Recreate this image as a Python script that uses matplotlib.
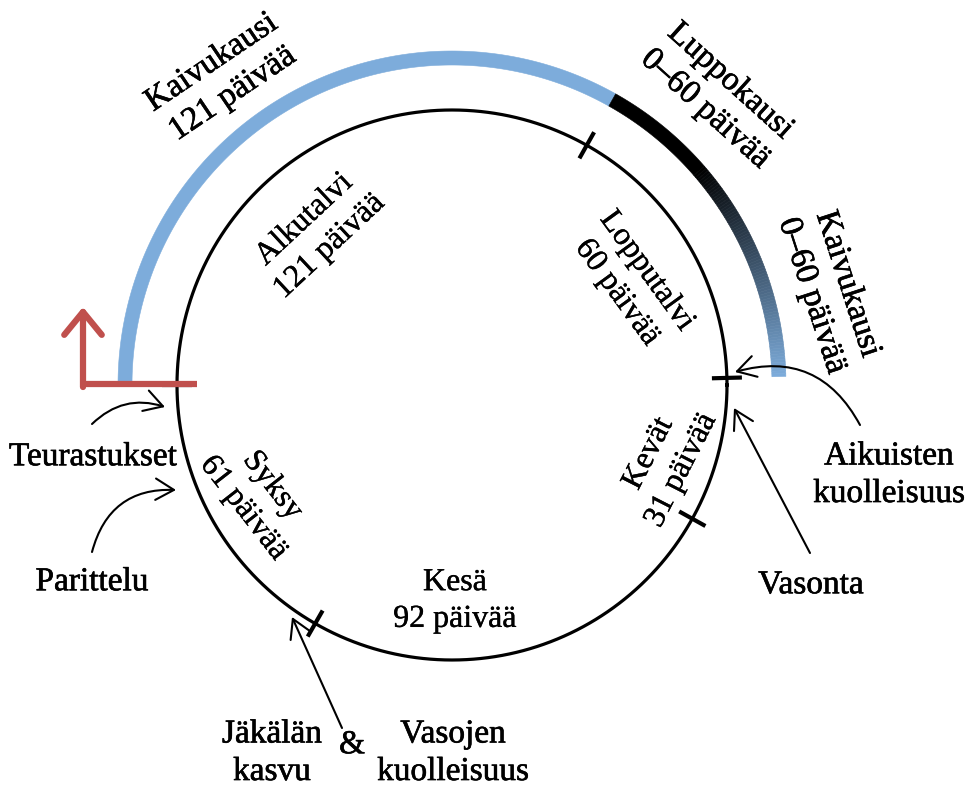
import numpy as np
import matplotlib.pyplot as plt
import matplotlib.patheffects as pe
from matplotlib.collections import PolyCollection
from matplotlib.colors import to_rgb

plt.rcParams['font.family'] = ['Liberation Serif', 'DejaVu Serif']

# vuodenajat ja pituudet (päivää)
seasons = ['Alkutalvi', 'Lopputalvi', 'Kevät', 'Kesä', 'Syksy']
season_days = [121, 60, 31, 92, 61]

# ulompi kaari: kaivukausi + epävarma luppokausi/kaivukausi
dig_days = 121
luppo_range = [0, 60]
black_share = 1 / 3   # osa epävarmasta jaksosta joka on täysin musta

# tapahtumat
events = ['Teurastukset', 'Parittelu', 'Aikuisten\nkuolleisuus', 'Vasonta',
          'Jäkälän\nkasvu', 'Vasojen\nkuolleisuus']

year = sum(season_days)
deg_per_day = 360.0 / year

# layout (kuvan pikseleinä)
W, H = 967, 789
cx, cy = 452, 385
r_in = 275
r_out = 327
band = 14
blue = '#7DACDB'
red = '#C0504D'
bold = [pe.withStroke(linewidth=0.45, foreground='black')]
semi = [pe.withStroke(linewidth=0.25, foreground='black')]


def pt(r, ang):
    a = np.radians(ang)
    return cx + r * np.cos(a), cy - r * np.sin(a)


def sector(a1, a2, r1, r2, n=40):
    t = np.linspace(a1, a2, n)
    xo, yo = pt(r2, t)
    xi, yi = pt(r1, t[::-1])
    return np.column_stack([np.r_[xo, xi], np.r_[yo, yi]])


fig = plt.figure(figsize=(W / 100, H / 100), dpi=100)
ax = fig.add_axes([0, 0, 1, 1])
ax.set_xlim(0, W)
ax.set_ylim(H, 0)
ax.axis('off')

# sisempi ympyrä
t = np.linspace(0, 360, 721)
x, y = pt(r_in, t)
ax.plot(x, y, color='black', lw=2.3, zorder=2)

# rajat vuodenaikojen välissä
bounds = 180 - np.cumsum([0] + season_days) * deg_per_day
for b in bounds[:-1]:
    x, y = pt(np.array([r_in - 15, r_in + 15]), b)
    ax.plot(x, y, color='black', lw=3, solid_capstyle='butt', zorder=3)

# ulompi kaari
a0 = 180
a1 = a0 - dig_days * deg_per_day
a2 = a1 - luppo_range[1] * deg_per_day
a_black = a1 - (a1 - a2) * black_share
polys = [sector(a0, a1, r_out - band / 2, r_out + band / 2, 200),
         sector(a1, a_black, r_out - band / 2, r_out + band / 2)]
cols = [to_rgb(blue), (0, 0, 0)]
n = 80
edges = np.linspace(a_black, a2, n + 1)
for i in range(n):
    polys.append(sector(edges[i], edges[i + 1], r_out - band / 2, r_out + band / 2, 4))
    f = (i + 0.5) / n
    cols.append(tuple(f * np.array(to_rgb(blue))))
ax.add_collection(PolyCollection(polys, facecolors=cols, edgecolors=cols, linewidths=0.4, zorder=2))

# punainen nuoli (vuoden alku)
ax.plot([197, 83], [384, 384], color=red, lw=4.5, solid_capstyle='butt', zorder=5)
ax.annotate('', xy=(83, 307), xytext=(83, 387),
            arrowprops=dict(arrowstyle='->,head_length=0.55,head_width=0.45', color=red, lw=4.5,
                            shrinkA=0, shrinkB=0, mutation_scale=30), zorder=5)

# vuodenaikojen tekstit
season_pos = [(317, 233), (632, 282), (665, 462), (455, 601), (258, 497)]
season_rot = [43, -54, 63, 0, -52]
for name, d, p, rot in zip(seasons, season_days, season_pos, season_rot):
    ax.text(p[0], p[1], f'{name}\n{d} päivää', rotation=rot, rotation_mode='anchor',
            ha='center', va='center', fontsize=23, linespacing=1.35, path_effects=semi)

# ulomman kaaren tekstit
luppo_txt = f'{luppo_range[0]}–{luppo_range[1]} päivää'
outer_kw = dict(rotation_mode='anchor', ha='center', va='center', fontsize=24,
                linespacing=1.3, path_effects=bold)
ax.text(222, 78, f'Kaivukausi\n{dig_days} päivää', rotation=34, **outer_kw)
ax.text(718, 95, f'Luppokausi\n{luppo_txt}', rotation=-42, **outer_kw)
ax.text(830, 290, f'Kaivukausi\n{luppo_txt}', rotation=-72, **outer_kw)

# tapahtumat
ev_pos = [(93, 457), (92, 582), (889, 475), (811, 585), (272, 753), (453, 753)]
for e, p in zip(events, ev_pos):
    ax.text(p[0], p[1], e, ha='center', va='center', fontsize=24, linespacing=1.3,
            path_effects=bold)
ax.text(352, 745, '&', ha='center', va='center', fontsize=24, path_effects=bold)

arrow = dict(arrowstyle='->,head_length=0.6,head_width=0.35', color='black', lw=1.5,
             shrinkA=0, shrinkB=0, mutation_scale=22)
ax.annotate('', xy=(165, 407), xytext=(92, 424),
            arrowprops=dict(arrow, connectionstyle='arc3,rad=-0.3'))
ax.annotate('', xy=(176, 490), xytext=(92, 552),
            arrowprops=dict(arrow, connectionstyle='arc3,rad=-0.4'))
ax.annotate('', xy=(735, 372), xytext=(860, 425),
            arrowprops=dict(arrow, connectionstyle='arc3,rad=0.4'))
ax.annotate('', xy=(734, 408), xytext=(810, 553), arrowprops=arrow)
ax.annotate('', xy=(292, 617), xytext=(342, 728), arrowprops=arrow)

fig.savefig('out.png', dpi=100)
